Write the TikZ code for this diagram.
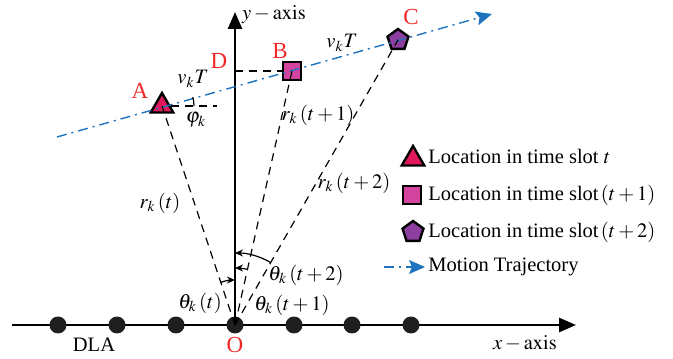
\documentclass[tikz,border=0pt]{standalone}
\usepackage{mathptmx}
\usepackage{fontspec}
\setmainfont{Liberation Serif}
\usetikzlibrary{arrows.meta,shapes.geometric}
\definecolor{tric}{HTML}{E0195E}
\definecolor{sqc}{HTML}{D2449E}
\definecolor{penc}{HTML}{8C3FA0}
\definecolor{trajc}{HTML}{1E73BE}
\definecolor{labred}{HTML}{EE2A2A}
\begin{document}
\begin{tikzpicture}[x=0.5pt,y=0.5pt,
  font=\fontsize{10.25}{12}\selectfont,
  axisline/.style={line width=1.3pt,-{Triangle[length=8.5pt,width=7pt]}},
  dlanode/.style={circle,fill=black!88,minimum size=8.5pt,inner sep=0pt},
  rline/.style={line width=0.6pt,dash pattern=on 4pt off 3pt},
  trajline/.style={trajc,line width=0.7pt,dash pattern=on 5pt off 2.5pt on 1pt off 2.5pt},
  trajtip/.style={-{Stealth[length=8pt,width=7pt,inset=1.5pt,trajc]}},
  trishape/.style={regular polygon,regular polygon sides=3,minimum size=13pt,inner sep=0pt,draw=black,line width=1.2pt,fill=tric},
  sqshape/.style={rectangle,minimum size=9pt,inner sep=0pt,draw=black,line width=1.2pt,fill=sqc},
  penshape/.style={regular polygon,regular polygon sides=5,minimum size=11pt,inner sep=0pt,draw=black,line width=1.2pt,fill=penc},
  lab/.style={text=labred,inner sep=0pt,font=\fontsize{11.5}{13}\selectfont},
  mlab/.style={inner sep=0pt},
  arcarrow/.style={line width=0.6pt,-{Stealth[length=4pt,width=3.5pt]}},
  legtext/.style={anchor=west,inner sep=0pt}
]
\useasboundingbox (0,0) rectangle (673,358);

% axes
\coordinate (xs) at (12,33);
\coordinate (xe) at (576,33);
\coordinate (ye) at (235,346);
\draw[axisline] (xs) -- (xe);

% DLA elements
\node[dlanode] (d1) at (58,33) {};
\node[dlanode] (d2) at (117,33) {};
\node[dlanode] (d3) at (176,33) {};
\node[dlanode] (O) at (235,33) {};
\node[dlanode] (d5) at (294,33) {};
\node[dlanode] (d6) at (352,33) {};
\node[dlanode] (d7) at (411,33) {};
\draw[axisline] (O.center) -- (ye);

% locations
\node[trishape] (A) at (162,252) {};
\node[sqshape] (B) at (292,287) {};
\node[penshape] (C) at (398,318) {};

% trajectory
\coordinate (ts) at (57,221);
\coordinate (te) at (492,344);
\draw[trajline,trajtip] (ts) -- (te);

% distances
\draw[rline] (O.center) -- (A.center);
\draw[rline] (O.center) -- (B.center);
\draw[rline] (O.center) -- (C.center);

% horizontal helpers
\coordinate (Ah) at (217,252);
\draw[rline] (A) -- (Ah);
\coordinate (Dp) at (235,287);
\draw[rline] (Dp) -- (B);

% angle arcs
\draw[line width=0.6pt] ([shift={(0:16pt)}]A.center) arc[start angle=0,end angle=16,radius=16pt];
\draw[arcarrow] ([shift={(108.6:22.5pt)}]O.center) arc[start angle=108.6,end angle=90,radius=22.5pt];
\draw[arcarrow] ([shift={(77.8:28.5pt)}]O.center) arc[start angle=77.8,end angle=90,radius=28.5pt];
\draw[arcarrow] ([shift={(60.1:36pt)}]O.center) arc[start angle=60.1,end angle=90,radius=36pt];

% point labels
\node[lab] (lA) at (140,267) {A};
\node[lab] (lB) at (280,307) {B};
\node[lab] (lC) at (411,341) {C};
\node[lab] (lD) at (219,297) {D};
\node[lab] (lO) at (235,13) {O};
\node[mlab] (lDLA) at (94,13) {DLA};
\node[mlab] (lx) at (525,15) {$x-\mathrm{axis}$};
\node[mlab] (ly) at (274,343) {$y-\mathrm{axis}$};

% math labels
\node[mlab] (vT1) at (193,279) {$v_k T$};
\node[mlab] (vT2) at (342,315) {$v_k T$};
\node[mlab] (phi) at (196,238) {$\varphi_k$};
\node[mlab] (r1) at (160,155) {$r_k\,(t)$};
\node[mlab] (r2) at (318,243) {$r_k\,(t+1)$};
\node[mlab] (r3) at (354,175) {$r_k\,(t+2)$};
\node[mlab] (th1) at (200,55) {$\theta_k\,(t)$};
\node[mlab] (th2) at (292,53) {$\theta_k\,(t+1)$};
\node[mlab] (th3) at (306,83) {$\theta_k\,(t+2)$};

% legend
\node[trishape] (L1) at (413,199) {};
\node[legtext] (T1) at (428,201) {Location in time slot $t$};
\node[sqshape] (L2) at (412,163) {};
\node[legtext] (T2) at (428,163) {Location in time slot$\,(t+1)$};
\node[penshape] (L3) at (413,126) {};
\node[legtext] (T3) at (428,126) {Location in time slot$\,(t+2)$};
\coordinate (L4s) at (384,91);
\coordinate (L4e) at (425,91);
\draw[trajline,trajtip] (L4s) -- (L4e);
\node[legtext] (T4) at (428,91) {Motion Trajectory};
\end{tikzpicture}
\end{document}
